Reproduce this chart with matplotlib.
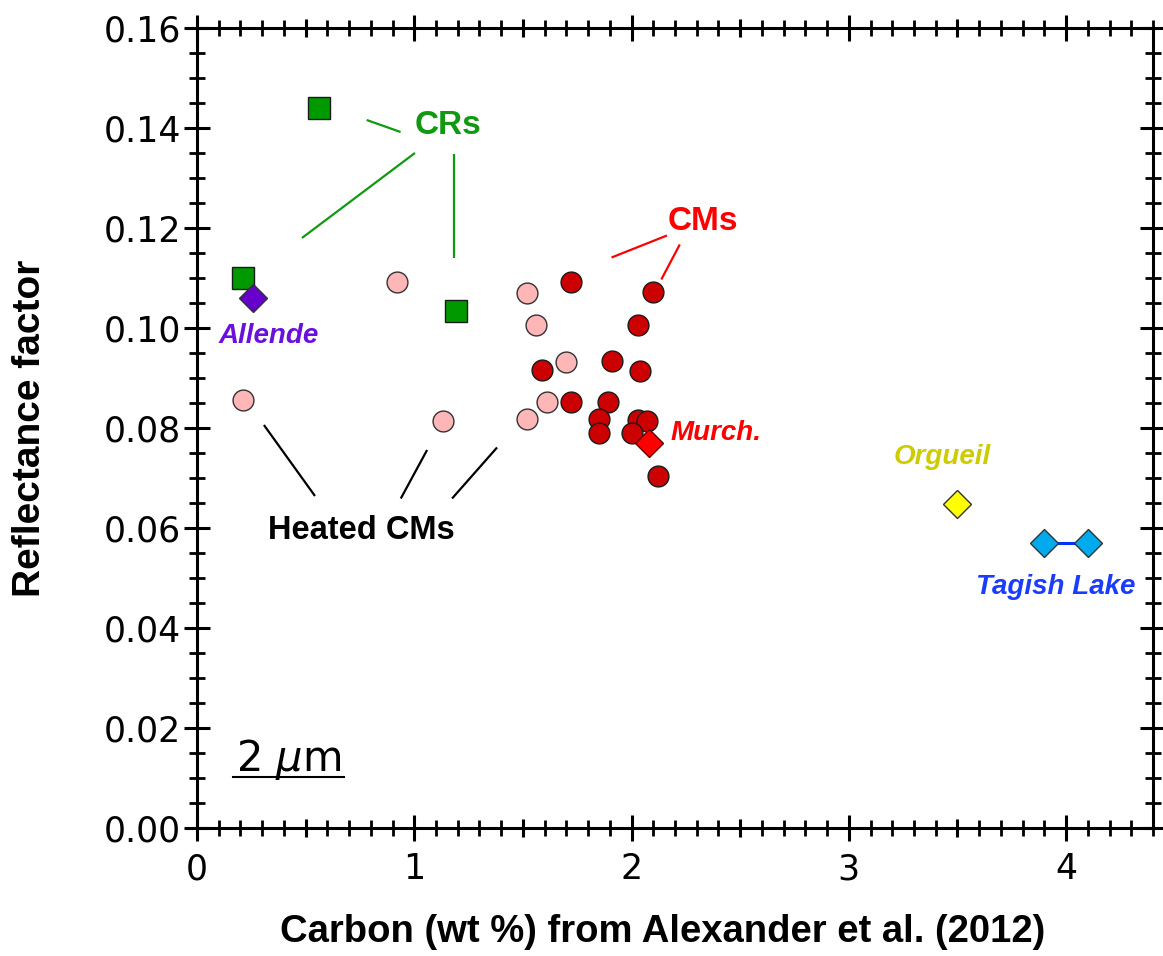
import matplotlib
matplotlib.use("Agg")
import matplotlib.pyplot as plt
from matplotlib.ticker import MultipleLocator, FixedLocator

# ---- data ----
cr_x = [0.56, 0.21, 1.19]
cr_y = [0.1440, 0.1100, 0.1034]

allende_x = [0.26]
allende_y = [0.1060]

heated_x = [0.21, 0.92, 1.13, 1.52, 1.56, 1.70, 1.61, 1.52]
heated_y = [0.0855, 0.1093, 0.0815, 0.1071, 0.1007, 0.0933, 0.0853, 0.0819]

cm_x = [1.72, 2.10, 2.03, 1.59, 1.91, 2.04, 1.72, 1.89, 1.85, 1.85, 2.03, 2.07, 2.00, 2.12]
cm_y = [0.1092, 0.1072, 0.1006, 0.0916, 0.0934, 0.0915, 0.0853, 0.0853, 0.0819, 0.0791,
        0.0817, 0.0815, 0.0791, 0.0705]

murch_x = [2.08]
murch_y = [0.0770]

orgueil_x = [3.50]
orgueil_y = [0.0648]

tagish_x = [3.90, 4.10]
tagish_y = [0.0571, 0.0571]

x_major = [0, 1, 2, 3, 4]
x_labels = ["0", "1", "2", "3", "4"]
y_major = [0.00, 0.02, 0.04, 0.06, 0.08, 0.10, 0.12, 0.14, 0.16]
y_labels = ["0.00", "0.02", "0.04", "0.06", "0.08", "0.10", "0.12", "0.14", "0.16"]

# ---- figure ----
fig = plt.figure(figsize=(11.63, 9.56), dpi=100)
ax = fig.add_axes([197 / 1163, 128 / 956, 956 / 1163, 800 / 956])
ax.set_xlim(0, 4.4)
ax.set_ylim(0, 0.16)

BOLD = dict(family="Liberation Sans", weight="bold")
BI = dict(family="Liberation Sans", weight="bold", style="italic")

# annotation leader lines (in data coords)
def seg(p, q, color):
    ax.plot([p[0], q[0]], [p[1], q[1]], color=color, lw=1.6, solid_capstyle="butt", zorder=2)

green = "#119911"
seg((0.781, 0.1416), (0.937, 0.1392), green)
seg((0.483, 0.1180), (1.003, 0.1350), green)
seg((1.182, 0.1348), (1.182, 0.1140), green)
red_t = "#ff0000"
seg((1.908, 0.1141), (2.163, 0.1185), red_t)
seg((2.222, 0.1167), (2.137, 0.1097), red_t)
seg((0.308, 0.0806), (0.543, 0.0664), "black")
seg((1.059, 0.0756), (0.938, 0.0659), "black")
seg((1.381, 0.0761), (1.174, 0.0659), "black")

# markers
ax.plot(cr_x, cr_y, ls="none", marker="s", ms=15.5, mfc="#009900", mec="#1a1a1a", mew=1.0, zorder=4)
ax.plot(allende_x, allende_y, ls="none", marker="D", ms=14.5, mfc="#6600cc", mec="#333333", mew=1.0, zorder=5)
ax.plot(heated_x, heated_y, ls="none", marker="o", ms=15, mfc="#ffb6b6", mec="#333333", mew=1.0, zorder=4)
for xx, yy in zip(cm_x, cm_y):
    ax.plot([xx], [yy], ls="none", marker="o", ms=15, mfc="#cc0000", mec="#1a1a1a", mew=1.0, zorder=4)
ax.plot(murch_x, murch_y, ls="none", marker="D", ms=14.5, mfc="#ff0000", mec="#660000", mew=1.0, zorder=5)
ax.plot(orgueil_x, orgueil_y, ls="none", marker="D", ms=14.5, mfc="#ffff00", mec="#333333", mew=1.0, zorder=5)
ax.plot(tagish_x, tagish_y, color="#0033ff", lw=2.2, marker="D", ms=14.5, mfc="#00aaee",
        mec="#333333", mew=1.0, zorder=5)

# text labels
ax.text(1.156, 0.1404, "CRs", color=green, fontsize=24, ha="center", va="center", **BOLD)
ax.text(2.329, 0.1213, "CMs", color=red_t, fontsize=24, ha="center", va="center", **BOLD)
ax.text(0.757, 0.0595, "Heated CMs", color="black", fontsize=23.5, ha="center", va="center", **BOLD)
ax.text(0.328, 0.0984, "Allende", color="#6a10dc", fontsize=20, ha="center", va="center", **BI)
ax.text(2.390, 0.0791, "Murch.", color="#ff0000", fontsize=20, ha="center", va="center", **BI)
ax.text(3.430, 0.0741, "Orgueil", color="#cccc00", fontsize=20, ha="center", va="center", **BI)
ax.text(3.954, 0.0483, "Tagish Lake", color="#1a3cff", fontsize=20, ha="center", va="center", **BI)

ax.text(0.42, 0.0138, r"2 $\mu$m", fontsize=30, ha="center", va="center", family="DejaVu Sans")
ax.plot([0.166, 0.676], [0.0102, 0.0102], color="black", lw=1.5, zorder=3)

# axes / ticks
for sp in ax.spines.values():
    sp.set_linewidth(2.2)
ax.set_xticks(x_major)
ax.set_xticklabels(x_labels)
ax.set_yticks(y_major)
ax.set_yticklabels(y_labels)
ax.xaxis.set_minor_locator(MultipleLocator(0.1))
ax.yaxis.set_minor_locator(MultipleLocator(0.005))
ax.tick_params(which="major", direction="inout", length=19, width=2.2,
               top=True, right=True, labelsize=25)
ax.tick_params(which="minor", direction="inout", length=11, width=2.0, top=True, right=True)
ax.tick_params(axis="y", which="major", pad=2)
ax.tick_params(axis="x", which="major", pad=8)
for lab in ax.get_xticklabels() + ax.get_yticklabels():
    lab.set_family("DejaVu Sans")

# medium ticks at half units on x (bottom & top)
for loc in ("bottom", "top"):
    sec = ax.secondary_xaxis(loc)
    sec.set_xticks([0.5, 1.5, 2.5, 3.5])
    sec.set_xticklabels([])
    sec.tick_params(direction="inout", length=13, width=2.2)
    sec.xaxis.set_minor_locator(FixedLocator([]))

ax.set_xlabel("Carbon (wt %) from Alexander et al. (2012)", fontsize=27.5, **BOLD)
ax.set_ylabel("Reflectance factor", fontsize=28, labelpad=40, **BOLD)
ax.xaxis.set_label_coords(0.4874, -0.108)

fig.savefig("out.png", dpi=100)
